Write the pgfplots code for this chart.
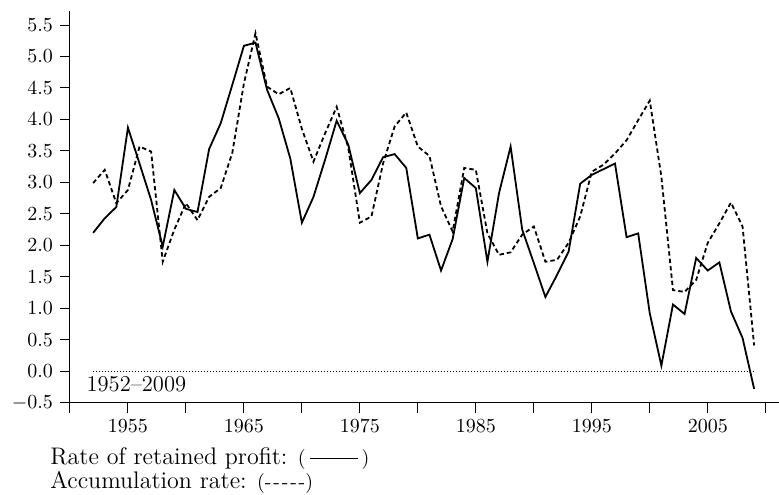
\documentclass[border=0pt]{standalone}
\usepackage{pgfplots}
\pgfplotsset{compat=1.18}
\begin{document}
\begin{tikzpicture}
\begin{axis}[
  scale only axis,
  width=354.5pt, height=195.9pt,
  xmin=1950, xmax=2011.1,
  ymin=-0.5, ymax=5.72,
  axis x line*=bottom, axis y line*=left,
  tick align=outside,
  major tick length=5pt, minor tick length=5pt,
  xtick={1955,1965,...,2005},
  minor xtick={1950,1960,...,2010},
  ytick={-0.5,0,...,5.5},
  x tick label style={/pgf/number format/1000 sep={}},
  y tick label style={/pgf/number format/.cd,fixed,fixed zerofill,precision=1},
  tick style={black, line width=0.5pt},
  axis line style={line width=0.5pt},
  clip=false,
]
\addplot[black, line width=0.9pt, mark=none] coordinates {
(1952,2.20) (1953,2.43) (1954,2.61) (1955,3.87) (1956,3.30) (1957,2.72)
(1958,1.98) (1959,2.88) (1960,2.58) (1961,2.53) (1962,3.53) (1963,3.94)
(1964,4.55) (1965,5.17) (1966,5.22) (1967,4.47) (1968,4.02) (1969,3.38)
(1970,2.36) (1971,2.77) (1972,3.36) (1973,3.98) (1974,3.60) (1975,2.83)
(1976,3.04) (1977,3.40) (1978,3.45) (1979,3.23) (1980,2.11) (1981,2.17)
(1982,1.60) (1983,2.10) (1984,3.07) (1985,2.91) (1986,1.74) (1987,2.83)
(1988,3.57) (1989,2.25) (1990,1.72) (1991,1.18) (1992,1.53) (1993,1.90)
(1994,2.98) (1995,3.12) (1996,3.21) (1997,3.30) (1998,2.13) (1999,2.19)
(2000,0.92) (2001,0.09) (2002,1.06) (2003,0.91) (2004,1.80) (2005,1.60)
(2006,1.73) (2007,0.95) (2008,0.53) (2009,-0.28)
};
\addplot[black, line width=0.9pt, dash pattern=on 2.2pt off 1.5pt, mark=none] coordinates {
(1952,2.99) (1953,3.20) (1954,2.67) (1955,2.88) (1956,3.57) (1957,3.49)
(1958,1.74) (1959,2.25) (1960,2.67) (1961,2.40) (1962,2.77) (1963,2.91)
(1964,3.47) (1965,4.57) (1966,5.37) (1967,4.52) (1968,4.40) (1969,4.50)
(1970,3.85) (1971,3.33) (1972,3.78) (1973,4.20) (1974,3.55) (1975,2.36)
(1976,2.46) (1977,3.30) (1978,3.89) (1979,4.11) (1980,3.57) (1981,3.42)
(1982,2.62) (1983,2.22) (1984,3.23) (1985,3.20) (1986,2.19) (1987,1.85)
(1988,1.89) (1989,2.17) (1990,2.30) (1991,1.74) (1992,1.77) (1993,2.04)
(1994,2.46) (1995,3.17) (1996,3.28) (1997,3.46) (1998,3.67) (1999,3.99)
(2000,4.30) (2001,3.09) (2002,1.29) (2003,1.26) (2004,1.45) (2005,2.04)
(2006,2.35) (2007,2.68) (2008,2.30) (2009,0.41)
};
\addplot[black, line width=0.5pt, dash pattern=on 0.5pt off 1pt, mark=none] coordinates {(1952,0) (2009,0)};
\node[anchor=base west, inner sep=0pt, font=\fontsize{11.3}{13}\selectfont] at ([yshift=-10.25pt]axis cs:1951.4,0) {1952--2009};
\end{axis}
\path (current axis.south west) ++(-35pt,-46pt) rectangle ++(389.5pt,247.5pt);
\node[anchor=base west, inner sep=0pt, font=\fontsize{12}{12}\selectfont] at ([xshift=-10pt,yshift=-31pt]current axis.south west)
  {Rate of retained profit: {\fontsize{10}{12}\selectfont(}\,\rule[0.55ex]{24pt}{0.4pt}\,{\fontsize{10}{12}\selectfont)}};
\node[anchor=base west, inner sep=0pt, font=\fontsize{12}{12}\selectfont] at ([xshift=-10pt,yshift=-43pt]current axis.south west)
  {Accumulation rate: {\fontsize{10}{12}\selectfont(-\kern0.9pt-\kern0.9pt-\kern0.9pt-\kern0.9pt-)}};
\end{tikzpicture}
\end{document}
